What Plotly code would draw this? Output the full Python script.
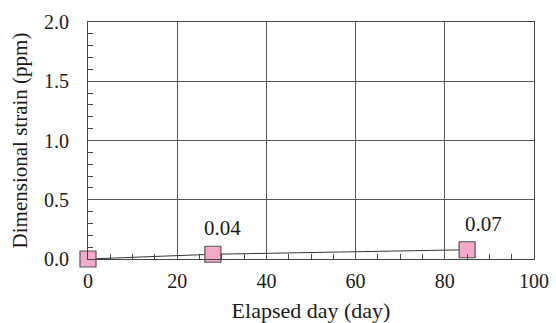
import plotly.graph_objects as go

days = [0, 28, 85]
strain = [0.0, 0.04, 0.078]
labels = ["", "0.04", "0.07"]
label_xshift = [0, 10, 16]

font_family = "Liberation Serif"

fig = go.Figure()
fig.add_trace(go.Scatter(
    x=days, y=strain, mode="lines+markers",
    line=dict(color="#333333", width=1),
    marker=dict(symbol="square", size=16, color="#F4A8CA",
                line=dict(color="#555555", width=1.2)),
    cliponaxis=False, showlegend=False,
))

for d, s, t, dx in zip(days, strain, labels, label_xshift):
    if t:
        fig.add_annotation(x=d, y=s, text=t, showarrow=False,
                           xshift=dx, yshift=26,
                           font=dict(family=font_family, size=21, color="#1a1a1a"))

fig.update_layout(
    width=556, height=323,
    margin=dict(l=88, r=22, t=22, b=64),
    paper_bgcolor="white", plot_bgcolor="white",
    font=dict(family=font_family, size=20, color="#1a1a1a"),
)
fig.update_xaxes(
    range=[0, 100], dtick=20, tick0=0, automargin=False,
    showgrid=True, gridcolor="#555555", gridwidth=1,
    showline=True, linecolor="#444444", linewidth=1.2, mirror=True,
    ticks="inside", ticklen=0, tickcolor="#444444",
    minor=dict(dtick=5, ticks="inside", ticklen=5, tickcolor="#444444", showgrid=False),
    zeroline=False,
    title=dict(text="Elapsed day (day)", standoff=15, font=dict(size=22)),
    tickfont=dict(size=20),
    ticklabelstandoff=4,
)
fig.update_yaxes(
    range=[0, 2.0], dtick=0.5, tick0=0, tickformat=".1f", automargin=False,
    showgrid=True, gridcolor="#555555", gridwidth=1,
    showline=True, linecolor="#444444", linewidth=1.2, mirror=True,
    ticks="inside", ticklen=0, tickcolor="#444444",
    minor=dict(dtick=0.1, ticks="inside", ticklen=5, tickcolor="#444444", showgrid=False),
    zeroline=False,
    title=dict(text="Dimensional strain (ppm)", standoff=10, font=dict(size=21)),
    tickfont=dict(size=20),
    ticklabelstandoff=14,
)

fig.write_html("out.html")
